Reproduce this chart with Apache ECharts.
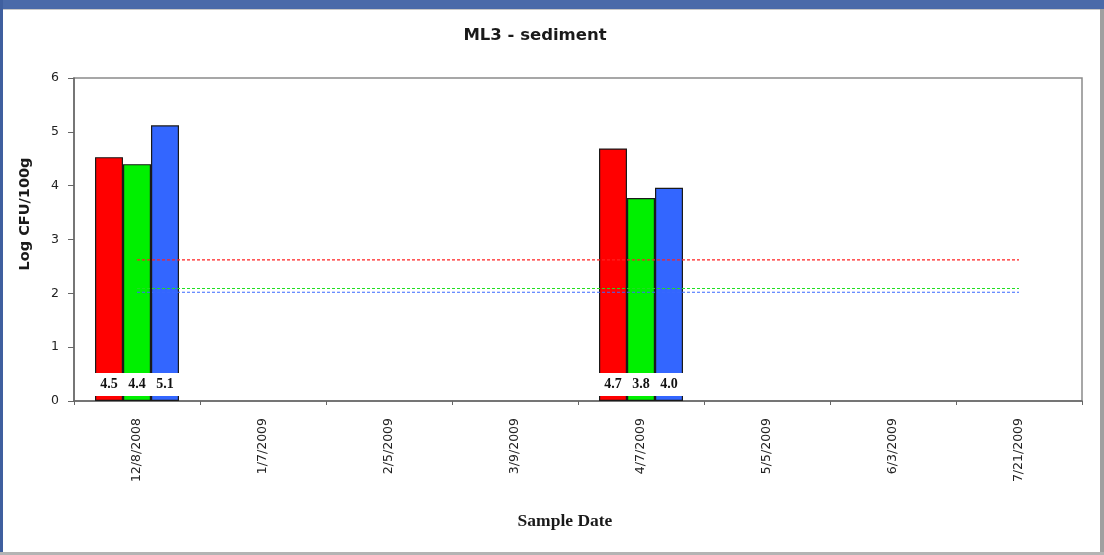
<!DOCTYPE html>
<html>
<head>
<meta charset="utf-8">
<script src="https://cdn.jsdelivr.net/npm/echarts@6/dist/echarts.min.js"></script>
<style>
html,body{margin:0;padding:0;background:#fff;}
#chart{width:1104px;height:555px;}
</style>
</head>
<body>
<div id="chart"></div>
<script>
const categories = ['12/8/2008','1/7/2009','2/5/2009','3/9/2009','4/7/2009','5/5/2009','6/3/2009','7/21/2009'];
const redValues   = [4.53, '-', '-', '-', 4.69, '-', '-', '-'];
const greenValues = [4.40, '-', '-', '-', 3.77, '-', '-', '-'];
const blueValues  = [5.12, '-', '-', '-', 3.96, '-', '-', '-'];
const redLimit    = [2.62, 2.62, 2.62, 2.62, 2.62, 2.62, 2.62, 2.62];
const greenLimit  = [2.09, 2.09, 2.09, 2.09, 2.09, 2.09, 2.09, 2.09];
const blueLimit   = [2.02, 2.02, 2.02, 2.02, 2.02, 2.02, 2.02, 2.02];
const yTicks = [0, 1, 2, 3, 4, 5, 6];

const chart = echarts.init(document.getElementById('chart'), null, {renderer: 'canvas'});

const barLabel = {
  show: true,
  position: 'insideBottom',
  distance: 5,
  formatter: p => Number(p.value).toFixed(1),
  fontFamily: 'Liberation Serif',
  fontWeight: 'bold',
  fontSize: 14,
  color: '#111',
  backgroundColor: '#fff',
  width: 30,
  height: 23,
  lineHeight: 23,
  align: 'center'
};

function barSeries(name, data, color) {
  return {
    name: name, type: 'bar', data: data,
    barWidth: 28, barGap: '0%',
    itemStyle: {color: color, borderColor: '#1a1a1a', borderWidth: 1.2},
    label: barLabel, z: 2
  };
}
function limitSeries(name, data, color) {
  return {
    name: name, type: 'line', data: data, symbol: 'none',
    lineStyle: {color: color, width: 1.2, type: [3, 2]},
    z: 5, silent: true
  };
}

chart.setOption({
  animation: false,
  backgroundColor: '#fff',
  title: {
    text: 'ML3 - sediment',
    left: 530, top: 22, textAlign: 'center',
    textStyle: {fontFamily: 'DejaVu Sans', fontWeight: 'bold', fontSize: 16.5, color: '#1a1a1a'}
  },
  grid: {left: 74, right: 22, top: 78, bottom: 154, show: true, borderColor: '#8a8a8a', borderWidth: 1.5, backgroundColor: 'transparent'},
  xAxis: {
    type: 'category', data: categories, boundaryGap: true,
    axisLine: {lineStyle: {color: '#666', width: 1.5}},
    axisTick: {show: true, length: 4, lineStyle: {color: '#666'}},
    axisLabel: {rotate: 90, margin: 17, fontFamily: 'DejaVu Sans', fontSize: 12.5, color: '#222', interval: 0},
    splitLine: {show: false}
  },
  yAxis: {
    type: 'value', min: 0, max: 6, interval: 1,
    axisLine: {show: true, lineStyle: {color: '#666', width: 1.5}},
    axisTick: {show: true, length: 6, lineStyle: {color: '#666'}},
    axisLabel: {margin: 15, fontFamily: 'DejaVu Sans', fontSize: 12.5, color: '#222', formatter: v => yTicks.includes(v) ? String(v) : ''},
    splitLine: {show: false}
  },
  graphic: [
    {type: 'rect', shape: {x: 0, y: 0, width: 1104, height: 9}, style: {fill: '#4a6aa9'}, z: 100},
    {type: 'rect', shape: {x: 0, y: 9, width: 1104, height: 1}, style: {fill: '#c8c8c8'}, z: 100},
    {type: 'rect', shape: {x: 0, y: 0, width: 3, height: 555}, style: {fill: '#3f5f9f'}, z: 100},
    {type: 'rect', shape: {x: 1100, y: 9, width: 4, height: 546}, style: {fill: '#a0a0a0'}, z: 100},
    {type: 'rect', shape: {x: 0, y: 552, width: 1104, height: 3}, style: {fill: '#b4b4b4'}, z: 100},
    {type: 'text', x: 25, y: 214, rotation: Math.PI / 2,
      style: {text: 'Log CFU/100g', font: 'bold 14.5px "DejaVu Sans"', fill: '#1a1a1a', align: 'center', verticalAlign: 'middle'}},
    {type: 'text', x: 565, y: 521,
      style: {text: 'Sample Date', font: 'bold 17.5px "Liberation Serif"', fill: '#1a1a1a', align: 'center', verticalAlign: 'middle'}}
  ],
  series: [
    barSeries('Red', redValues, '#ff0000'),
    barSeries('Green', greenValues, '#00f000'),
    barSeries('Blue', blueValues, '#3366ff'),
    limitSeries('Red limit', redLimit, '#ff2020'),
    limitSeries('Green limit', greenLimit, '#20e020'),
    limitSeries('Blue limit', blueLimit, '#3a6aff')
  ]
});
</script>
</body>
</html>
